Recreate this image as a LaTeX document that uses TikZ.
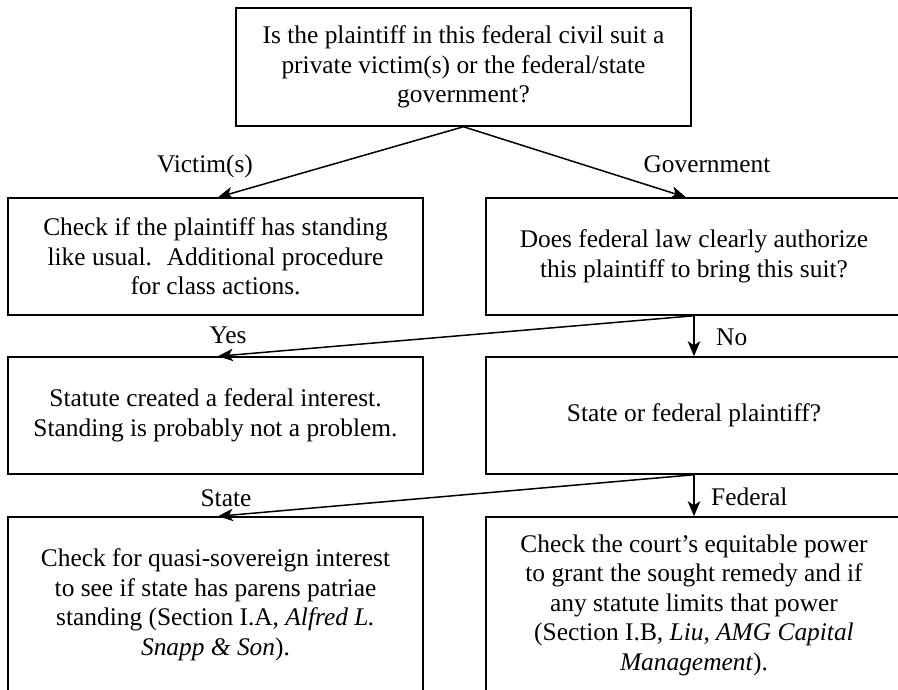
\documentclass[tikz,border=0pt]{standalone}
\usepackage{fontspec}
\setmainfont{Liberation Serif}
\usetikzlibrary{arrows.meta}
\tikzset{
  box/.style={draw, line width=1.5pt, rectangle, align=center, inner sep=0pt,
    font=\fontsize{25.4}{29.5}\selectfont},
  lab/.style={inner sep=0pt, font=\fontsize{25.4}{29.5}\selectfont},
  arr/.style={line width=1.5pt, -{Stealth[length=15pt,width=12.5pt,inset=4pt]}}
}
\begin{document}
\begin{tikzpicture}[x=1pt,y=-1pt]
\useasboundingbox (0,0) rectangle (898,690);
\begin{scope}
\clip (0,0) rectangle (898,690);
\node[box, minimum width=455pt, minimum height=118pt] (top) at (463.5,67)
  {Is the plaintiff in this federal civil suit a\\ private victim(s) or the federal/state\\ government?};
\node[box, minimum width=415pt, minimum height=117pt] (L2) at (215.5,256.5)
  {Check if the plaintiff has standing\\ like usual.~ Additional procedure\\ for class actions.};
\node[box, minimum width=416pt, minimum height=117pt] (R2) at (694,256.5)
  {Does federal law clearly authorize\\ this plaintiff to bring this suit?};
\node[box, minimum width=415pt, minimum height=117pt] (L3) at (215.5,415.5)
  {Statute created a federal interest.\\ Standing is probably not a problem.};
\node[box, minimum width=416pt, minimum height=117pt] (R3) at (694,415.5)
  {State or federal plaintiff?};
\node[box, minimum width=415pt, minimum height=176pt] (L4) at (215.5,605)
  {Check for quasi-sovereign interest\\ to see if state has parens patriae\\ standing (Section I.A, \textit{Alfred L.}\\ \textit{Snapp \& Son}).};
\node[box, minimum width=416pt, minimum height=176pt] (R4) at (694,605)
  {Check the court’s equitable power\\ to grant the sought remedy and if\\ any statute limits that power\\ (Section I.B, \textit{Liu}, \textit{AMG Capital}\\ \textit{Management}).};
\end{scope}

\draw[arr] (top.south) -- ([xshift=2.5pt]L2.north);
\draw[arr] (top.south) -- ([xshift=-8pt]R2.north);
\draw[arr] (R2.south) -- ([xshift=2.5pt]L3.north);
\draw[arr] (R2.south) -- (R3.north);
\draw[arr] (R3.south) -- ([xshift=2.5pt]L4.north);
\draw[arr] (R3.south) -- (R4.north);

\node[lab, anchor=base] (lv) at (205,173) {Victim(s)};
\node[lab, anchor=base] (lg) at (707,173) {Government};
\node[lab, anchor=base] (ly) at (228,343) {Yes};
\node[lab, anchor=base west] (ln) at (716,345) {No};
\node[lab, anchor=base] (ls) at (226,506) {State};
\node[lab, anchor=base west] (lf) at (711,505) {Federal};
\end{tikzpicture}
\end{document}
